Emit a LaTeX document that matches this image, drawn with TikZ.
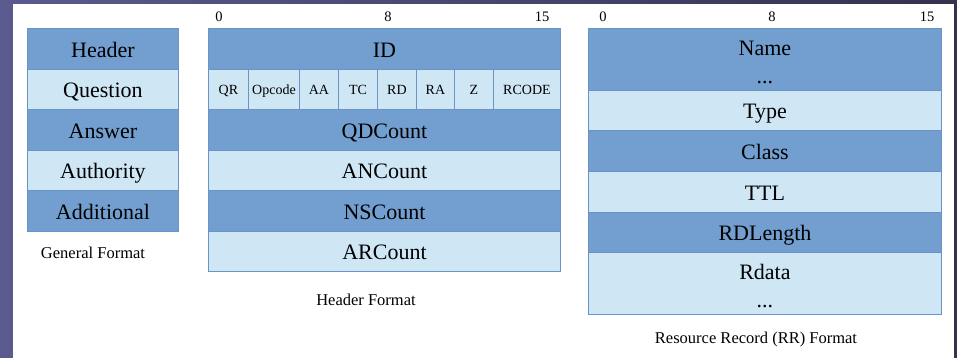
\documentclass[tikz,border=0pt]{standalone}
\usepackage{fontspec}
\setmainfont{Liberation Serif}
\definecolor{fielddark}{HTML}{729FCF}
\definecolor{fieldlight}{HTML}{CFE7F5}
\definecolor{fieldline}{HTML}{6A94C6}
\definecolor{slideleft}{HTML}{5A5A8E}
\definecolor{slideright}{HTML}{34324F}
\tikzset{
  field/.style={draw=fieldline, line width=0.9pt, inner sep=0pt, anchor=north west,
    font=\fontsize{22}{24}\selectfont, text=black, text height=19pt, text depth=2pt},
  darkfield/.style={field, fill=fielddark},
  lightfield/.style={field, fill=fieldlight},
  flag/.style={lightfield, font=\fontsize{14}{16}\selectfont, text height=13pt, text depth=2pt},
  bitnum/.style={font=\fontsize{14.5}{16}\selectfont, inner sep=0pt},
  caption/.style={font=\fontsize{16.5}{18}\selectfont, inner sep=0pt},
  twoline/.style={align=center, font=\fontsize{22}{28}\selectfont},
}
\begin{document}
\begin{tikzpicture}[x=1pt, y=-1pt]
% page backdrop
\shade[left color=slideleft, right color=slideright] (0,0) rectangle (957,358);
\fill[white] (13,4) rectangle (954,358);
\useasboundingbox (0,0) rectangle (957,358);

% general message layout
\node[darkfield,  minimum width=151pt, minimum height=41pt] (gHeader) at (27,28)  {Header};
\node[lightfield, minimum width=151pt, minimum height=40pt] (gQuestion) at (27,69) {Question};
\node[darkfield,  minimum width=151pt, minimum height=41pt] (gAnswer) at (27,109) {Answer};
\node[lightfield, minimum width=151pt, minimum height=40pt] (gAuth) at (27,150)   {Authority};
\node[darkfield,  minimum width=151pt, minimum height=41pt] (gAdd) at (27,190)    {Additional};
\node[caption] (gCap) at (93,253) {General Format};

% header layout
\node[bitnum] (h0)  at (219,17) {0};
\node[bitnum] (h8)  at (388,17) {8};
\node[bitnum] (h15) at (542,17) {15};
\node[darkfield, minimum width=352pt, minimum height=41pt] (hID) at (208,28) {ID};
\node[flag, minimum width=40pt, minimum height=40pt] (fQR) at (208,69) {QR};
\node[flag, minimum width=51pt, minimum height=40pt] (fOp) at (248,69) {Opcode};
\node[flag, minimum width=39pt, minimum height=40pt] (fAA) at (299,69) {AA};
\node[flag, minimum width=39pt, minimum height=40pt] (fTC) at (338,69) {TC};
\node[flag, minimum width=39pt, minimum height=40pt] (fRD) at (377,69) {RD};
\node[flag, minimum width=38pt, minimum height=40pt] (fRA) at (416,69) {RA};
\node[flag, minimum width=39pt, minimum height=40pt] (fZ)  at (454,69) {Z};
\node[flag, minimum width=67pt, minimum height=40pt] (fRC) at (493,69) {RCODE};
\node[darkfield,  minimum width=352pt, minimum height=41pt] (hQD) at (208,109) {QDCount};
\node[lightfield, minimum width=352pt, minimum height=40pt] (hAN) at (208,150) {ANCount};
\node[darkfield,  minimum width=352pt, minimum height=41pt] (hNS) at (208,190) {NSCount};
\node[lightfield, minimum width=352pt, minimum height=40pt] (hAR) at (208,231) {ARCount};
\node[caption] (hCap) at (366,300) {Header Format};

% resource record layout
\node[bitnum] (r0)  at (603,17) {0};
\node[bitnum] (r8)  at (772,17) {8};
\node[bitnum] (r15) at (927,17) {15};
\node[darkfield, minimum width=353pt, minimum height=62pt] (rName) at (588,28) {};
\node[twoline, yshift=-3pt] (rNameText) at (rName.center) {Name\\...};
\node[lightfield, minimum width=353pt, minimum height=40pt] (rType) at (588,90)  {Type};
\node[darkfield,  minimum width=353pt, minimum height=41pt] (rClass) at (588,130) {Class};
\node[lightfield, minimum width=353pt, minimum height=41pt] (rTTL) at (588,171)  {TTL};
\node[darkfield,  minimum width=353pt, minimum height=40pt] (rLen) at (588,212)  {RDLength};
\node[lightfield, minimum width=353pt, minimum height=62pt] (rData) at (588,252) {};
\node[twoline, yshift=-3pt] (rDataText) at (rData.center) {Rdata\\...};
\node[caption] (rCap) at (756,340) {Resource Record (RR) Format};
\end{tikzpicture}
\end{document}
